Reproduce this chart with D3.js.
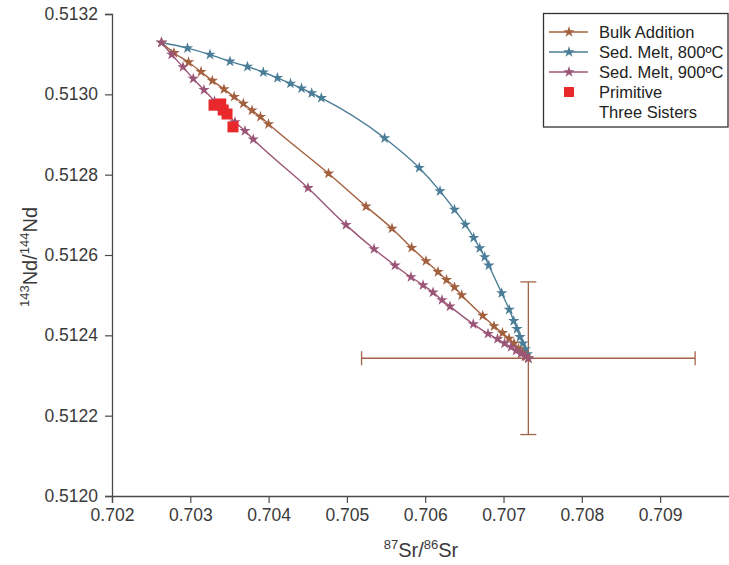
<!DOCTYPE html>
<html>
<head>
<meta charset="utf-8">
<script src="https://cdn.jsdelivr.net/npm/d3@7"></script>
<style>
  html, body { margin: 0; padding: 0; background: #fff; }
  svg { display: block; font-family: "Liberation Sans", Arial, sans-serif; }
</style>
</head>
<body>
<svg id="chart" width="729" height="565"></svg>
<script>
// 87Sr/86Sr vs 143Nd/144Nd mixing models
const seriesNames = ["Bulk Addition", "Sed. Melt, 800ºC", "Sed. Melt, 900ºC"];
const seriesColors = ["#a3603f", "#4a7d97", "#9b5677"];

const bulkSr = [0.702632, 0.702792, 0.702977, 0.703137, 0.703281, 0.703430, 0.703560, 0.703677, 0.703788, 0.703896, 0.703999,
  0.704765, 0.705244, 0.705576, 0.705827, 0.706010, 0.706163, 0.706272, 0.706374, 0.706466,
  0.706735, 0.706878, 0.706987, 0.707070, 0.707134, 0.707191, 0.707242, 0.707287, 0.707317];
const bulkNd = [0.513129, 0.513103, 0.513080, 0.513056, 0.513034, 0.513013, 0.512994, 0.512977, 0.512960, 0.512944, 0.512926,
  0.512803, 0.512721, 0.512666, 0.512618, 0.512585, 0.512558, 0.512538, 0.512520, 0.512500,
  0.512449, 0.512423, 0.512406, 0.512392, 0.512380, 0.512367, 0.512356, 0.512347, 0.512343];

const melt800Sr = [0.702632, 0.702964, 0.703251, 0.703507, 0.703730, 0.703932, 0.704113, 0.704279, 0.704420, 0.704550, 0.704673,
  0.705482, 0.705923, 0.706189, 0.706374, 0.706512, 0.706619, 0.706696, 0.706760, 0.706812,
  0.706977, 0.707073, 0.707130, 0.707172, 0.707210, 0.707246, 0.707278, 0.707303, 0.707317];
const melt800Nd = [0.513129, 0.513115, 0.513099, 0.513082, 0.513069, 0.513055, 0.513041, 0.513027, 0.513015, 0.513003, 0.512991,
  0.512891, 0.512817, 0.512759, 0.512713, 0.512676, 0.512643, 0.512617, 0.512595, 0.512574,
  0.512505, 0.512464, 0.512436, 0.512416, 0.512396, 0.512380, 0.512366, 0.512353, 0.512343];

const melt900Sr = [0.702632, 0.702762, 0.702907, 0.703038, 0.703175, 0.703309, 0.703443, 0.703571, 0.703698, 0.703804,
  0.704503, 0.704988, 0.705346, 0.705614, 0.705818, 0.705972, 0.706100, 0.706214, 0.706316,
  0.706614, 0.706802, 0.706923, 0.707013, 0.707096, 0.707160, 0.707223, 0.707274, 0.707317];
const melt900Nd = [0.513129, 0.513099, 0.513068, 0.513039, 0.513011, 0.512983, 0.512956, 0.512931, 0.512909, 0.512888,
  0.512767, 0.512675, 0.512615, 0.512574, 0.512545, 0.512525, 0.512507, 0.512488, 0.512472,
  0.512428, 0.512404, 0.512391, 0.512380, 0.512371, 0.512362, 0.512355, 0.512348, 0.512343];

// Primitive Three Sisters samples
const sistersSr = [0.703303, 0.703389, 0.703420, 0.703469, 0.703545];
const sistersNd = [0.512973, 0.512976, 0.512961, 0.512951, 0.512919];

// Sediment end-member with its uncertainty
const endSr = 0.707317, endNd = 0.512343;
const errSr = 0.00213, errNd = 0.00019;

const xTicks = [0.702, 0.703, 0.704, 0.705, 0.706, 0.707, 0.708, 0.709];
const yTicks = [0.5120, 0.5122, 0.5124, 0.5126, 0.5128, 0.5130, 0.5132];

const svg = d3.select("#chart");
const x = d3.scaleLinear().domain([0.702, 0.7099]).range([112, 730.6]);
const y = d3.scaleLinear().domain([0.5120, 0.5132]).range([496, 14]);
const axisColor = "#4a4a4a";

// axes
const gx = svg.append("g").attr("transform", "translate(0,496)")
  .call(d3.axisBottom(x).tickValues(xTicks).tickFormat(d3.format(".3f")).tickSizeOuter(0).tickSize(7).tickPadding(6));
const gy = svg.append("g").attr("transform", "translate(112,0)")
  .call(d3.axisLeft(y).tickValues(yTicks).tickFormat(d3.format(".4f")).tickSizeOuter(0).tickSize(7).tickPadding(7));
[gx, gy].forEach(g => {
  g.select(".domain").attr("stroke", axisColor).attr("stroke-width", 1.3);
  g.selectAll(".tick line").attr("stroke", axisColor).attr("stroke-width", 1.2);
  g.selectAll(".tick text").attr("fill", "#3a3a3a").attr("font-size", 17.5)
    .attr("font-family", "Liberation Sans, Arial, sans-serif");
});

// axis titles
const xt = svg.append("text").attr("x", 421).attr("y", 557).attr("text-anchor", "middle")
  .attr("font-size", 20).attr("fill", "#3a3a3a");
xt.append("tspan").attr("font-size", 13).attr("dy", -8).text("87");
xt.append("tspan").attr("dy", 8).text("Sr/");
xt.append("tspan").attr("font-size", 13).attr("dy", -8).text("86");
xt.append("tspan").attr("dy", 8).text("Sr");

const yt = svg.append("text").attr("transform", "translate(37,257) rotate(-90)").attr("text-anchor", "middle")
  .attr("font-size", 20).attr("fill", "#3a3a3a");
yt.append("tspan").attr("font-size", 13).attr("dy", -8).text("143");
yt.append("tspan").attr("dy", 8).text("Nd/");
yt.append("tspan").attr("font-size", 13).attr("dy", -8).text("144");
yt.append("tspan").attr("dy", 8).text("Nd");

// error bars on the end-member
const ebColor = "#a3634a";
const eb = svg.append("g").attr("stroke", ebColor).attr("stroke-width", 1.3).attr("fill", "none");
eb.append("line").attr("x1", x(endSr - errSr)).attr("x2", x(endSr + errSr)).attr("y1", y(endNd)).attr("y2", y(endNd));
eb.append("line").attr("x1", x(endSr)).attr("x2", x(endSr)).attr("y1", y(endNd - errNd)).attr("y2", y(endNd + errNd));
[endSr - errSr, endSr + errSr].forEach(v => eb.append("line")
  .attr("x1", x(v)).attr("x2", x(v)).attr("y1", y(endNd) - 7).attr("y2", y(endNd) + 7));
[endNd - errNd, endNd + errNd].forEach(v => eb.append("line")
  .attr("x1", x(endSr) - 8).attr("x2", x(endSr) + 8).attr("y1", y(v)).attr("y2", y(v)));

// mixing curves
const series = [
  { sr: melt800Sr, nd: melt800Nd, color: seriesColors[1] },
  { sr: bulkSr, nd: bulkNd, color: seriesColors[0] },
  { sr: melt900Sr, nd: melt900Nd, color: seriesColors[2] }
];
const line = d3.line().x(d => x(d[0])).y(d => y(d[1])).curve(d3.curveMonotoneX);
const star = d3.symbol().type(d3.symbolStar).size(40);

series.forEach(s => {
  const pts = s.sr.map((v, i) => [v, s.nd[i]]);
  svg.append("path").datum(pts).attr("d", line).attr("fill", "none")
    .attr("stroke", s.color).attr("stroke-width", 1.4);
  svg.append("g").selectAll("path").data(pts).join("path")
    .attr("transform", d => `translate(${x(d[0])},${y(d[1])})`)
    .attr("d", star).attr("fill", s.color);
});

// Three Sisters samples
svg.append("g").selectAll("rect").data(sistersSr.map((v, i) => [v, sistersNd[i]])).join("rect")
  .attr("x", d => x(d[0]) - 5.5).attr("y", d => y(d[1]) - 5.5)
  .attr("width", 11).attr("height", 11).attr("fill", "#e8282a");

// legend
const lg = svg.append("g");
lg.append("rect").attr("x", 543.5).attr("y", 13.5).attr("width", 184.5).attr("height", 113.5)
  .attr("fill", "#fff").attr("stroke", "#333").attr("stroke-width", 1.3);
const legendRows = [
  { label: seriesNames[0], color: seriesColors[0], y: 32 },
  { label: seriesNames[1], color: seriesColors[1], y: 52 },
  { label: seriesNames[2], color: seriesColors[2], y: 72 }
];
legendRows.forEach(r => {
  lg.append("line").attr("x1", 549).attr("x2", 588).attr("y1", r.y).attr("y2", r.y)
    .attr("stroke", r.color).attr("stroke-width", 1.4);
  lg.append("path").attr("transform", `translate(569,${r.y})`).attr("d", star).attr("fill", r.color);
  lg.append("text").attr("x", 599).attr("y", r.y + 6).attr("font-size", 16.5).attr("fill", "#222").text(r.label);
});
lg.append("rect").attr("x", 564).attr("y", 87).attr("width", 10).attr("height", 10).attr("fill", "#e8282a");
lg.append("text").attr("x", 599).attr("y", 98).attr("font-size", 16.5).attr("fill", "#222").text("Primitive");
lg.append("text").attr("x", 599).attr("y", 118).attr("font-size", 16.5).attr("fill", "#222").text("Three Sisters");
</script>
</body>
</html>
